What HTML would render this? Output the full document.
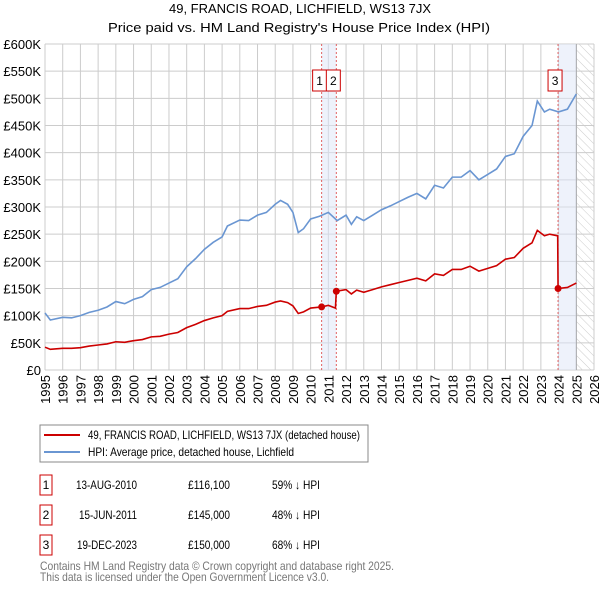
<!DOCTYPE html>
<html><head><meta charset="utf-8"><style>
body{margin:0;background:#fff;font-family:"Liberation Sans","DejaVu Sans",sans-serif;}
#wrap{position:relative;width:600px;height:590px;overflow:hidden;}
</style></head><body>
<div id="wrap">
<svg id="chart" width="600" height="420" style="position:absolute;left:0;top:0">
<defs><pattern id="hatch" width="6" height="6" patternUnits="userSpaceOnUse" patternTransform="rotate(-45)"><line x1="0" y1="0" x2="0" y2="6" stroke="#ccc" stroke-width="1"/></pattern></defs>
<text x="169" y="13" font-size="13" textLength="262" lengthAdjust="spacingAndGlyphs">49, FRANCIS ROAD, LICHFIELD, WS13 7JX</text>
<text x="108" y="32" font-size="13" textLength="382" lengthAdjust="spacingAndGlyphs">Price paid vs. HM Land Registry's House Price Index (HPI)</text>
<g id="grid"></g><g id="bands"></g><g id="series"></g><g id="labels"></g>
</svg>
<svg width="600" height="170" style="position:absolute;left:0;top:420px">
<rect x="40" y="5" width="328" height="37" fill="#fff" stroke="#888"/>
<line x1="44" y1="15" x2="80" y2="15" stroke="#cc0000" stroke-width="2"/>
<text x="88" y="19" font-size="12" textLength="272" lengthAdjust="spacingAndGlyphs">49, FRANCIS ROAD, LICHFIELD, WS13 7JX (detached house)</text>
<line x1="44" y1="32" x2="80" y2="32" stroke="#6a96d2" stroke-width="2"/>
<text x="88" y="36" font-size="12" textLength="206" lengthAdjust="spacingAndGlyphs">HPI: Average price, detached house, Lichfield</text>
<g font-size="12">
<rect x="40" y="55" width="12" height="20" fill="#fff" stroke="#cc0000"/><text x="46" y="69" text-anchor="middle">1</text>
<text x="76" y="69" textLength="61" lengthAdjust="spacingAndGlyphs">13-AUG-2010</text><text x="188" y="69" textLength="42" lengthAdjust="spacingAndGlyphs">£116,100</text><text x="272" y="69" textLength="48" lengthAdjust="spacingAndGlyphs">59% ↓ HPI</text>
<rect x="40" y="85" width="12" height="20" fill="#fff" stroke="#cc0000"/><text x="46" y="99" text-anchor="middle">2</text>
<text x="79" y="99" textLength="58" lengthAdjust="spacingAndGlyphs">15-JUN-2011</text><text x="188" y="99" textLength="42" lengthAdjust="spacingAndGlyphs">£145,000</text><text x="272" y="99" textLength="48" lengthAdjust="spacingAndGlyphs">48% ↓ HPI</text>
<rect x="40" y="115" width="12" height="20" fill="#fff" stroke="#cc0000"/><text x="46" y="129" text-anchor="middle">3</text>
<text x="77" y="129" textLength="60" lengthAdjust="spacingAndGlyphs">19-DEC-2023</text><text x="188" y="129" textLength="42" lengthAdjust="spacingAndGlyphs">£150,000</text><text x="272" y="129" textLength="48" lengthAdjust="spacingAndGlyphs">68% ↓ HPI</text>
</g>
<text x="40" y="150" font-size="12" fill="#777" textLength="354" lengthAdjust="spacingAndGlyphs">Contains HM Land Registry data © Crown copyright and database right 2025.</text>
<text x="40" y="161" font-size="12" fill="#777" textLength="289" lengthAdjust="spacingAndGlyphs">This data is licensed under the Open Government Licence v3.0.</text>
</svg>
</div>
<script>
const yTicks=[0,50,100,150,200,250,300,350,400,450,500,550,600];
const xYears=[1995,1996,1997,1998,1999,2000,2001,2002,2003,2004,2005,2006,2007,2008,2009,2010,2011,2012,2013,2014,2015,2016,2017,2018,2019,2020,2021,2022,2023,2024,2025,2026];
const hpiDates=[1995,1995.3,1996,1996.5,1997,1997.5,1998,1998.5,1999,1999.5,2000,2000.5,2001,2001.5,2002,2002.5,2003,2003.5,2004,2004.5,2005,2005.3,2006,2006.5,2007,2007.5,2008,2008.3,2008.7,2009,2009.3,2009.6,2010,2010.5,2011,2011.5,2012,2012.3,2012.6,2013,2013.5,2014,2014.5,2015,2015.5,2016,2016.5,2017,2017.5,2018,2018.5,2019,2019.5,2020,2020.5,2021,2021.5,2022,2022.5,2022.8,2023.2,2023.5,2024,2024.5,2025];
const hpiValues=[105,92,97,96,100,106,110,116,126,122,130,135,148,152,160,168,190,205,222,235,245,265,276,275,285,290,305,312,305,290,253,260,278,283,290,275,285,268,282,275,285,295,302,310,318,325,315,340,335,355,355,367,350,360,370,393,398,430,450,495,475,480,475,480,508];
const redDates=[1995,1995.3,1996,1996.5,1997,1997.5,1998,1998.5,1999,1999.5,2000,2000.5,2001,2001.5,2002,2002.5,2003,2003.5,2004,2004.5,2005,2005.3,2006,2006.5,2007,2007.5,2008,2008.3,2008.7,2009,2009.3,2009.6,2010,2010.62,2011,2011.4,2011.45,2012,2012.3,2012.6,2013,2013.5,2014,2014.5,2015,2015.5,2016,2016.5,2017,2017.5,2018,2018.5,2019,2019.5,2020,2020.5,2021,2021.5,2022,2022.5,2022.8,2023.2,2023.5,2023.95,2023.97,2024.5,2025];
const redValues=[42,38,40,40,41,44,46,48,52,51,54,56,61,62,66,69,78,84,91,96,100,108,113,113,117,119,125,127,124,118,104,107,114,116.1,119,114,145,148,140,147,143,148,153,157,161,165,169,164,177,174,185,185,191,182,187,192,204,207,224,234,257,247,250,247,150,152,160];
const saleDates=[2010.62,2011.45,2023.97];
const saleValues=[116.1,145,150];
const saleLabels=["1","2","3"];
const NS="http://www.w3.org/2000/svg";
const X0=45,X1=594,Y0=370,Y1=44;
const xs=y=>X0+(y-1995)/(2026-1995)*(X1-X0);
const ys=v=>Y0-v/600*(Y0-Y1);
function mk(p,tag,at){const e=document.createElementNS(NS,tag);for(const k in at)e.setAttribute(k,at[k]);p.appendChild(e);return e;}
const grid=document.getElementById('grid'),bands=document.getElementById('bands'),ser=document.getElementById('series'),lab=document.getElementById('labels');
mk(grid,'rect',{x:X0,y:Y1,width:X1-X0,height:Y0-Y1,fill:'#fff'});
yTicks.forEach(v=>{const l=mk(grid,'line',{x1:X0,x2:X1,y1:ys(v),y2:ys(v),stroke:'#ccc'});


const t=mk(lab,'text',{x:X0-4,y:ys(v)+5,'text-anchor':'end','font-size':13});t.textContent='£'+(v?v+'K':'0');

});
xYears.forEach(y=>{const l=mk(grid,'line',{x1:xs(y),x2:xs(y),y1:Y1,y2:Y0,stroke:'#ccc'});


const t=mk(lab,'text',{x:0,y:0,'font-size':13,'text-anchor':'end',transform:`translate(${xs(y)+5},${Y0+5}) rotate(-90)`});t.textContent=y;

});
mk(bands,'rect',{x:xs(2025),y:Y1,width:X1-xs(2025),height:Y0-Y1,fill:'url(#hatch)'});
mk(bands,'line',{x1:xs(2025),x2:xs(2025),y1:Y1,y2:Y0,stroke:'#999'});
const b1=mk(bands,'rect',{x:xs(saleDates[0]),y:Y1,width:xs(saleDates[1])-xs(saleDates[0]),height:Y0-Y1,fill:'#dde6f8',opacity:0.5});


const b2=mk(bands,'rect',{x:xs(saleDates[2]),y:Y1,width:xs(2025)-xs(saleDates[2]),height:Y0-Y1,fill:'#dde6f8',opacity:0.5});


saleDates.forEach(d=>{const l=mk(bands,'line',{x1:xs(d),x2:xs(d),y1:Y1,y2:Y0,stroke:'#e06060','stroke-dasharray':'2,2'});

});
const hp=mk(ser,'polyline',{points:hpiDates.map((d,i)=>xs(d)+','+ys(hpiValues[i])).join(' '),fill:'none',stroke:'#6a96d2','stroke-width':1.6});


const rp=mk(ser,'polyline',{points:redDates.map((d,i)=>xs(d)+','+ys(redValues[i])).join(' '),fill:'none',stroke:'#cc0000','stroke-width':1.6});


saleDates.forEach((d,i)=>{const c=mk(ser,'circle',{cx:xs(d),cy:ys(saleValues[i]),r:3.5,fill:'#cc0000'});


const bx=i==0?xs(d)-9:xs(d)-10;
const r=mk(lab,'rect',{x:bx,y:70,width:14,height:21,fill:'#fff',stroke:'#cc0000'});


const t=mk(lab,'text',{x:bx+7,y:85,'text-anchor':'middle','font-size':12});t.textContent=saleLabels[i];

});
</script>
</body></html>
